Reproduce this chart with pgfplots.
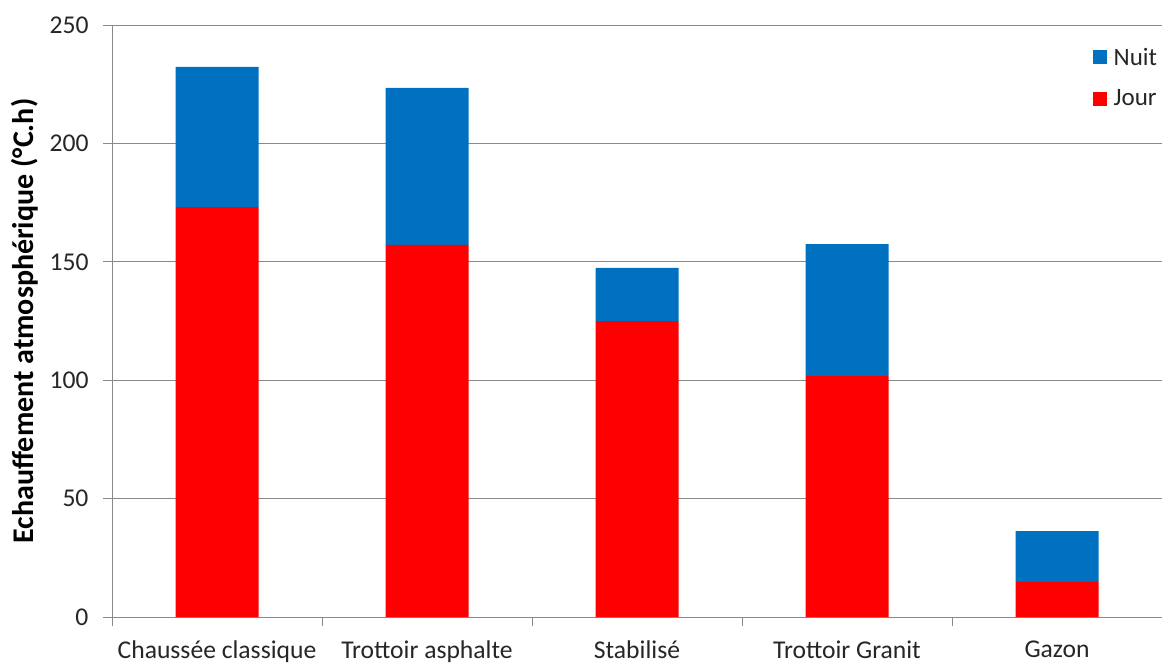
\documentclass[border=0pt]{standalone}
\usepackage{fontspec}
\setmainfont{Carlito}
\usepackage{pgfplots}
\usepackage{pgfplotstable}
\pgfplotsset{compat=1.18}
\definecolor{nuit}{HTML}{0070C0}
\definecolor{jour}{HTML}{FF0000}
\definecolor{gridgray}{HTML}{898989}
\definecolor{txt}{HTML}{262626}

% Echauffement atmospherique par type de surface (degres C.h)
\pgfplotstableread{
x jour nuit
0 173.1 59.2
1 157.1 66.3
2 125.0 22.4
3 101.8 55.7
4 14.8 21.5
}\surfaces

\begin{document}
\begin{tikzpicture}
\begin{axis}[
  scale only axis, width=1050pt, height=592pt,
  xmin=-0.5, xmax=4.5, ymin=0, ymax=250,
  ybar stacked, bar width=83pt,
  axis lines=left, axis line style={gridgray, line width=0.9pt, -},
  ytick={0,50,...,250},
  ymajorgrids, grid style={gridgray, line width=0.9pt},
  xtick={0,...,4},
  xticklabels={Chaussée classique, Trottoir asphalte, Stabilisé, Trottoir Granit, Gazon},
  minor xtick={-0.5,0.5,...,4.5},
  major x tick style={draw=none},
  tick style={gridgray, line width=0.9pt},
  tick align=outside, major tick length=9pt, minor tick length=9pt,
  /pgf/number format/assume math mode=true,
  tick label style={font=\fontsize{25.6}{31}\selectfont, text=txt},
  yticklabel style={xshift=-11pt},
  xticklabel style={yshift=-11pt},
  ylabel={\bfseries Echauffement atmosphérique (°C.h)},
  ylabel style={at={(rel axis cs:0,0.5)}, anchor=center, yshift=87pt, font=\fontsize{30}{36}\selectfont, text=black},
  legend style={at={(rel axis cs:0.929,0.968)}, anchor=north west, draw=none, fill=none,
    font=\fontsize{25}{30}\selectfont, text=txt, row sep=19pt,
    nodes={inner sep=2pt}},
  legend cell align=left,
  reverse legend,
  legend image code/.code={\fill[#1] (2pt,-7pt) rectangle (16pt,7pt);
    \path (0pt,0pt) -- (21pt,0pt);},
]
\addplot[fill=jour, draw=none] table[x=x, y=jour] {\surfaces};
\addplot[fill=nuit, draw=none] table[x=x, y=nuit] {\surfaces};
\legend{Jour, Nuit}
\end{axis}
\pgfresetboundingbox
\path[use as bounding box] ([xshift=-112pt,yshift=-45pt]current axis.south west) rectangle ([yshift=25pt]current axis.north east);
\end{tikzpicture}
\end{document}
